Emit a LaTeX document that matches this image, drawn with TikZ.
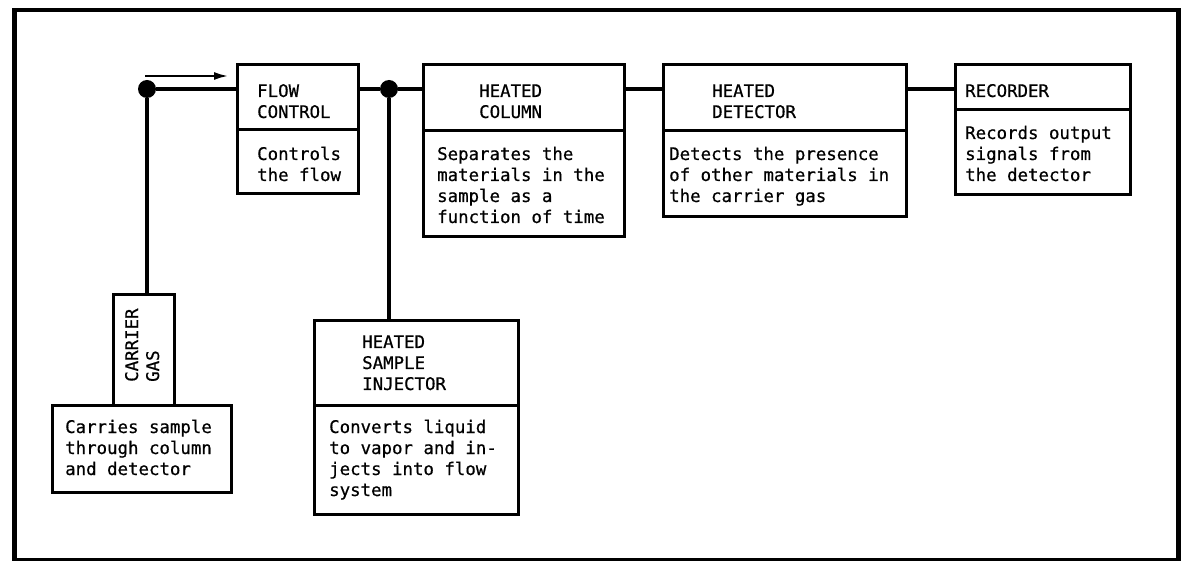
\documentclass[tikz,border=0pt]{standalone}
\usepackage{fontspec}
\setmonofont{DejaVu Sans Mono}[FakeBold=0.6]
\usetikzlibrary{arrows.meta}
\newcommand\txtlines[1]{\begin{tabular}[t]{@{}l@{}}#1\end{tabular}}
\begin{document}
\begin{tikzpicture}[x=1pt,y=-1pt,
  blk/.style={draw, line width=3.3pt, anchor=north west, inner sep=0pt},
  txt/.style={anchor=base west, inner sep=0pt, font=\ttfamily\fontsize{17.4}{21}\selectfont},
  conn/.style={line width=3.3pt},
  dotnode/.style={circle, fill, inner sep=0pt, minimum size=18pt},
  flowarrow/.style={line width=2pt, -{Latex[length=14pt,width=8pt]}}]
\useasboundingbox (0,0) rectangle (1181,561);
\node[draw, line width=4.5pt, anchor=north west, inner sep=0pt, minimum width=1164pt, minimum height=550pt] (frame) at (12,8) {};
% boxes
\node[blk, minimum width=121pt, minimum height=65pt] (flowh) at (236,63) {};
\node[blk, minimum width=121pt, minimum height=64pt] (flowd) at (236,128) {};
\node[blk, minimum width=201pt, minimum height=66pt] (colh) at (422,63) {};
\node[blk, minimum width=201pt, minimum height=106pt] (cold) at (422,129) {};
\node[blk, minimum width=243pt, minimum height=66pt] (deth) at (662,63) {};
\node[blk, minimum width=243pt, minimum height=86pt] (detd) at (662,129) {};
\node[blk, minimum width=175pt, minimum height=45pt] (rech) at (954,63) {};
\node[blk, minimum width=175pt, minimum height=85pt] (recd) at (954,108) {};
\node[blk, minimum width=61pt, minimum height=111pt] (carr) at (112,293) {};
\node[blk, minimum width=179pt, minimum height=87pt] (card) at (51,404) {};
\node[blk, minimum width=204pt, minimum height=85pt] (injh) at (313,319) {};
\node[blk, minimum width=204pt, minimum height=109pt] (injd) at (313,404) {};
% texts
\node[txt] (tflowh) at (257,97) {\txtlines{FLOW\\CONTROL}};
\node[txt] (tflowd) at (257,160) {\txtlines{Controls\\the flow}};
\node[txt] (tcolh) at (479,97) {\txtlines{HEATED\\COLUMN}};
\node[txt] (tcold) at (437,160) {\txtlines{Separates the\\materials in the\\sample as a\\function of time}};
\node[txt] (tdeth) at (712,97) {\txtlines{HEATED\\DETECTOR}};
\node[txt] (tdetd) at (669,160) {\txtlines{Detects the presence\\of other materials in\\the carrier gas}};
\node[txt] (treh) at (965,97) {RECORDER};
\node[txt] (trecd) at (965,139) {\txtlines{Records output\\signals from\\the detector}};
\node[txt, rotate=90] (tcarr) at (138,382) {\txtlines{CARRIER\\GAS}};
\node[txt] (tcard) at (65,433) {\txtlines{Carries sample\\through column\\and detector}};
\node[txt] (tinjh) at (362,348) {\txtlines{HEATED\\SAMPLE\\INJECTOR}};
\node[txt] (tinjd) at (329,433) {\txtlines{Converts liquid\\to vapor and in-\\jects into flow\\system}};
% junctions
\node[dotnode] (d1) at (147,89) {};
\node[dotnode] (d2) at (389,89) {};
% connectors
\draw[conn] (d1) -- (flowh.west |- d1);
\draw[conn] (flowh.east |- d2) -- (d2);
\draw[conn] (d2) -- (colh.west |- d2);
\draw[conn] (colh.east |- d1) -- (deth.west |- d1);
\draw[conn] (deth.east |- d1) -- (rech.west |- d1);
\draw[conn] (d1) -- (d1 |- carr.north);
\draw[conn] (d2) -- (d2 |- injh.north);
\coordinate (a0) at (145,76);
\coordinate (a1) at (228,76);
\draw[flowarrow] (a0) -- (a1);
\end{tikzpicture}
\end{document}
